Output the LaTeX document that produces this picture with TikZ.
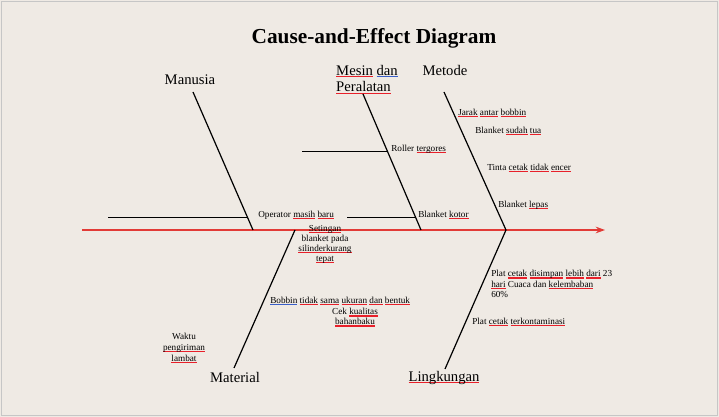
\documentclass[tikz,border=0pt]{standalone}
\usepackage{fontspec}
\setmainfont{Liberation Serif}
\usetikzlibrary{arrows.meta}
\definecolor{bg}{HTML}{EFEAE4}
\definecolor{spinered}{HTML}{E23B36}
\definecolor{errred}{HTML}{E8202A}
\definecolor{errblue}{HTML}{3A5FC8}
\newcommand\ru[1]{\leavevmode\setbox0\hbox{#1}\rlap{\textcolor{errred}{\rule[-1.4pt]{\wd0}{0.9pt}}}\box0\relax}
\newcommand\bu[1]{\leavevmode\setbox0\hbox{#1}\rlap{\textcolor{errblue}{\rule[-1.4pt]{\wd0}{0.9pt}}}\box0\relax}
\begin{document}
\begin{tikzpicture}[x=0.75pt,y=-0.75pt,
  bone/.style={line width=0.9pt,black},
  subbone/.style={line width=0.7pt,black},
  lbl/.style={font=\fontsize{11}{12.5}\selectfont,inner sep=0pt,align=left},
  cause/.style={font=\fontsize{6.9}{7.5}\selectfont,inner sep=0pt,align=center},
  causel/.style={cause,anchor=west,align=left}]
\fill[bg] (0,0) rectangle (719,417);
\draw[gray!45,line width=0.6pt] (1.5,1.5) rectangle (717.5,415.5);
\useasboundingbox (0,0) rectangle (719,417);
% title
\node[inner sep=0pt] (title) at (374,38) {\fontsize{16}{18}\selectfont\bfseries Cause-and-Effect Diagram};
% spine
\coordinate (tail) at (82,230);
\coordinate (head) at (605,230);
\draw[spinered,line width=0.9pt,-{Stealth[length=7pt,width=5pt]}] (tail) -- (head);
% category labels
\node[lbl] (manusia) at (190,80) {Manusia};
\node[lbl] (mesin) at (367,79.5) {\ru{Mesin} \bu{dan}\\\ru{Peralatan}};
\node[lbl] (metode) at (445,70) {Metode};
\node[lbl] (material) at (235,377) {Material};
\node[lbl] (lingkungan) at (444,378) {\ru{Lingkungan}};
% bone end points
\coordinate (m1) at (193,92);  \coordinate (m2) at (253,230);
\coordinate (e1) at (363,94);  \coordinate (e2) at (421,230);
\coordinate (t1) at (444,92);  \coordinate (t2) at (506,230);
\coordinate (a1) at (234,368); \coordinate (a2) at (295,230);
\coordinate (l1) at (445,369); \coordinate (l2) at (506,230);
\draw[bone] (m1) -- (m2);
\draw[bone] (e1) -- (e2);
\draw[bone] (t1) -- (t2);
\draw[bone] (a1) -- (a2);
\draw[bone] (l1) -- (l2);
% sub-bones
\coordinate (s1a) at (108,217); \coordinate (s1b) at (248,217);
\coordinate (s2a) at (302,151); \coordinate (s2b) at (388,151);
\coordinate (s3a) at (347,217); \coordinate (s3b) at (415,217);
\draw[subbone] (s1a) -- (s1b);
\draw[subbone] (s2a) -- (s2b);
\draw[subbone] (s3a) -- (s3b);
% causes
\node[causel] (c1) at (258,215) {Operator \ru{masih} \ru{baru}};
\node[causel] (c2) at (391,149) {Roller \ru{tergores}};
\node[causel] (c3) at (418,215) {Blanket \ru{kotor}};
\node[causel] (c4) at (458,113) {\ru{Jarak} \ru{antar} \ru{bobbin}};
\node[causel] (c5) at (475,131) {Blanket \ru{sudah} \ru{tua}};
\node[causel] (c6) at (487,168) {Tinta \ru{cetak} \ru{tidak} \ru{encer}};
\node[causel] (c7) at (498,205) {Blanket \ru{lepas}};
\node[cause,anchor=north] (c8) at (325,225) {\ru{Setingan}\\blanket pada\\\ru{silinderkurang}\\\ru{tepat}};
\node[causel,anchor=north west,font=\fontsize{6.9}{8}\selectfont] (c9) at (491,270) {Plat \ru{cetak} \ru{disimpan} \ru{lebih} \ru{dari} 23\\\ru{hari} Cuaca dan \ru{kelembaban}\\60\%};
\node[causel] (c10) at (472,322) {Plat \ru{cetak} \ru{terkontaminasi}};
\node[causel] (c11) at (270,301) {\bu{Bobbin} \ru{tidak} \ru{sama} \ru{ukuran} \ru{dan} \ru{bentuk}};
\node[cause,anchor=north] (c12) at (355,308) {Cek \ru{kualitas}\\\ru{bahanbaku}};
\node[cause,anchor=north,font=\fontsize{6.9}{8.2}\selectfont] (c13) at (184,333) {Waktu\\\ru{pengiriman}\\\ru{lambat}};
\end{tikzpicture}
\end{document}
